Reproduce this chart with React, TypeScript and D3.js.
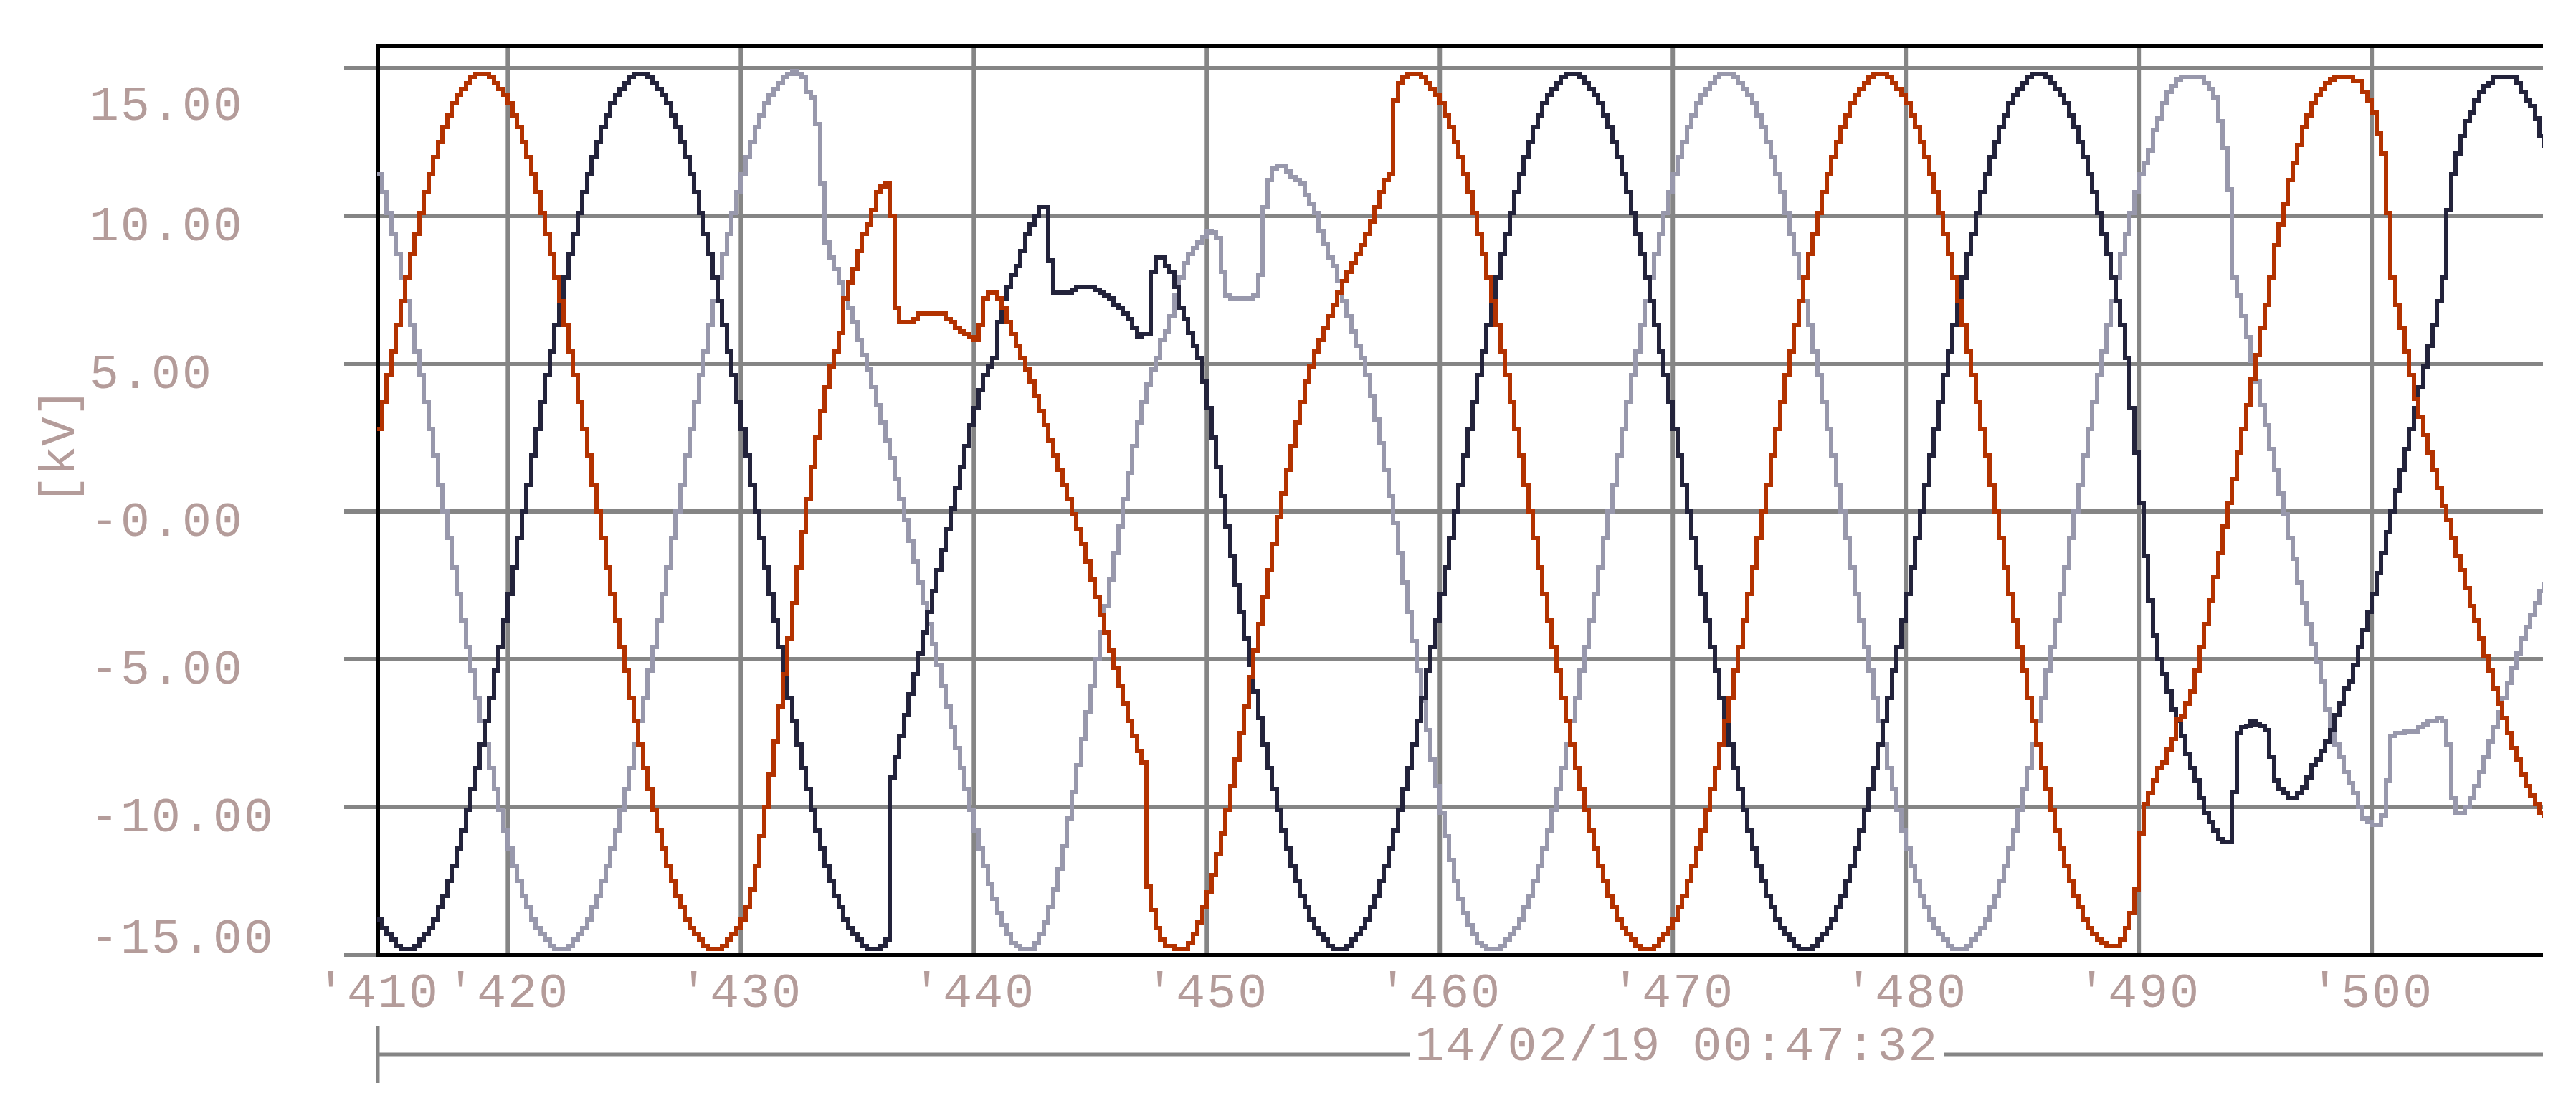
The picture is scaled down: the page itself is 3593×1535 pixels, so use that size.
import React from 'react';
import * as d3 from 'd3';

// ---- data ----
const sampleStart = 414.4; // ms
const sampleStep = 0.2; // ms
const xDomain = [414.42, 507.35];
const yDomain = [-15, 15.75];
const yTicks = [15, 10, 5, 0, -5, -10, -15];
const yTickLabels = ['15.00', '10.00', '5.00', '-0.00', '-5.00', '-10.00', '-15.00'];
const xTicks = [410, 420, 430, 440, 450, 460, 470, 480, 490, 500];
const xTickLabels = ["'410", "'420", "'430", "'440", "'450", "'460", "'470", "'480", "'490", "'500"];
const dateLabel = '14/02/19 00:47:32';
const unitLabel = '[kV]';

const phaseRed = [
  2.8, 3.7, 4.6, 5.4, 6.3, 7.1, 7.9, 8.7, 9.4, 10.1,
  10.8, 11.4, 12.0, 12.5, 13.0, 13.4, 13.8, 14.1, 14.3, 14.5,
  14.7, 14.8, 14.8, 14.8, 14.7, 14.5, 14.3, 14.1, 13.8, 13.4,
  13.0, 12.5, 12.0, 11.4, 10.8, 10.1, 9.4, 8.7, 7.9, 7.1,
  6.3, 5.4, 4.6, 3.7, 2.8, 1.9, 0.9, 0, -0.9, -1.9,
  -2.8, -3.7, -4.6, -5.4, -6.3, -7.1, -7.9, -8.7, -9.4, -10.1,
  -10.8, -11.4, -12.0, -12.5, -13.0, -13.4, -13.8, -14.1, -14.3, -14.5,
  -14.7, -14.8, -14.8, -14.8, -14.7, -14.5, -14.3, -14.1, -13.8, -13.4,
  -12.8, -12.0, -11.0, -10.0, -8.9, -7.8, -6.6, -5.5, -4.3, -3.1,
  -1.9, -0.7, 0.4, 1.5, 2.5, 3.4, 4.2, 4.9, 5.4, 6.05,
  7.2, 7.75, 8.2, 8.8, 9.4, 9.7, 10.2, 10.8, 11.0, 11.1,
  10.0, 6.9, 6.4, 6.4, 6.4, 6.5, 6.7, 6.7, 6.7, 6.7,
  6.7, 6.7, 6.5, 6.4, 6.2, 6.1, 6.0, 5.9, 5.8, 6.3,
  7.2, 7.4, 7.4, 7.2, 6.9, 6.4, 6.0, 5.6, 5.2, 4.8,
  4.4, 3.9, 3.4, 2.9, 2.4, 1.9, 1.4, 0.9, 0.4, -0.1,
  -0.6, -1.1, -1.7, -2.3, -2.9, -3.5, -4.1, -4.7, -5.3, -5.9,
  -6.5, -7.1, -7.6, -8.1, -8.5, -12.7, -13.5, -14.1, -14.5, -14.7,
  -14.7, -14.8, -14.8, -14.8, -14.6, -14.3, -13.9, -13.4, -12.9, -12.3,
  -11.6, -10.9, -10.1, -9.3, -8.4, -7.5, -6.6, -5.6, -4.7, -3.8,
  -2.9, -2.0, -1.1, -0.2, 0.6, 1.4, 2.2, 3.0, 3.7, 4.4,
  4.9, 5.4, 5.8, 6.2, 6.6, 7.0, 7.4, 7.8, 8.1, 8.4,
  8.7, 9.0, 9.4, 9.8, 10.3, 10.8, 11.2, 11.4, 13.9, 14.5,
  14.7, 14.8, 14.8, 14.8, 14.7, 14.5, 14.3, 14.1, 13.8, 13.4,
  13.0, 12.5, 12.0, 11.4, 10.8, 10.1, 9.4, 8.7, 7.9, 7.1,
  6.3, 5.4, 4.6, 3.7, 2.8, 1.9, 0.9, 0, -0.9, -1.9,
  -2.8, -3.7, -4.6, -5.4, -6.3, -7.1, -7.9, -8.7, -9.4, -10.1,
  -10.8, -11.4, -12.0, -12.5, -13.0, -13.4, -13.8, -14.1, -14.3, -14.5,
  -14.7, -14.8, -14.8, -14.8, -14.7, -14.5, -14.3, -14.1, -13.8, -13.4,
  -13.0, -12.5, -12.0, -11.4, -10.8, -10.1, -9.4, -8.7, -7.9, -7.1,
  -6.3, -5.4, -4.6, -3.7, -2.8, -1.9, -0.9, 0, 0.9, 1.9,
  2.8, 3.7, 4.6, 5.4, 6.3, 7.1, 7.9, 8.7, 9.4, 10.1,
  10.8, 11.4, 12.0, 12.5, 13.0, 13.4, 13.8, 14.1, 14.3, 14.5,
  14.7, 14.8, 14.8, 14.8, 14.7, 14.5, 14.3, 14.1, 13.8, 13.4,
  13.0, 12.5, 12.0, 11.4, 10.8, 10.1, 9.4, 8.7, 7.9, 7.1,
  6.3, 5.4, 4.6, 3.7, 2.8, 1.9, 0.9, 0, -0.9, -1.9,
  -2.8, -3.7, -4.6, -5.4, -6.3, -7.1, -7.9, -8.7, -9.4, -10.1,
  -10.8, -11.4, -12.0, -12.5, -13.0, -13.4, -13.8, -14.1, -14.3, -14.5,
  -14.6, -14.7, -14.7, -14.7, -14.5, -14.1, -13.6, -12.8, -10.9, -9.9,
  -9.55, -9.1, -8.7, -8.5, -8.05, -7.7, -7.05, -6.95, -6.5, -6.1,
  -5.4, -4.6, -3.8, -3.0, -2.2, -1.4, -0.5, 0.3, 1.1, 2.0,
  2.8, 3.6, 4.5, 5.3, 6.2, 7.0, 7.9, 9.0, 9.7, 10.4,
  11.2, 11.8, 12.4, 13.0, 13.4, 13.8, 14.1, 14.3, 14.5, 14.6,
  14.7, 14.7, 14.7, 14.7, 14.55, 14.55, 14.2, 13.9, 13.5, 12.8,
  12.1, 10.1, 7.9, 7.0, 6.2, 5.4, 4.6, 3.8, 3.2, 2.6,
  2.0, 1.4, 0.8, 0.2, -0.3, -0.9, -1.5, -2.0, -2.6, -3.2,
  -3.7, -4.3, -4.9, -5.4, -6.0, -6.5, -7.0, -7.5, -8.0, -8.4,
  -8.9, -9.3, -9.6, -9.9, -10.2, -10.4,
];

const phaseDark = [
  -13.8, -14.1, -14.3, -14.5, -14.7, -14.8, -14.8, -14.8, -14.7, -14.5,
  -14.3, -14.1, -13.8, -13.4, -13.0, -12.5, -12.0, -11.4, -10.8, -10.1,
  -9.4, -8.7, -7.9, -7.1, -6.3, -5.4, -4.6, -3.7, -2.8, -1.9,
  -0.9, 0, 0.9, 1.9, 2.8, 3.7, 4.6, 5.4, 6.3, 7.1,
  7.9, 8.7, 9.4, 10.1, 10.8, 11.4, 12.0, 12.5, 13.0, 13.4,
  13.8, 14.1, 14.3, 14.5, 14.7, 14.8, 14.8, 14.8, 14.7, 14.5,
  14.3, 14.1, 13.8, 13.4, 13.0, 12.5, 12.0, 11.4, 10.8, 10.1,
  9.4, 8.7, 7.9, 7.1, 6.3, 5.4, 4.6, 3.7, 2.8, 1.9,
  0.9, 0, -0.9, -1.9, -2.8, -3.7, -4.6, -5.4, -6.3, -7.1,
  -7.9, -8.7, -9.4, -10.1, -10.8, -11.4, -12.0, -12.5, -13.0, -13.4,
  -13.8, -14.1, -14.3, -14.5, -14.7, -14.8, -14.8, -14.8, -14.7, -14.5,
  -9.0, -8.3, -7.6, -6.9, -6.2, -5.5, -4.8, -4.1, -3.4, -2.7,
  -2.0, -1.3, -0.6, 0.1, 0.8, 1.5, 2.2, 2.9, 3.5, 4.1,
  4.6, 4.9, 5.2, 6.4, 7.2, 7.6, 8.0, 8.3, 8.8, 9.4,
  9.7, 10.0, 10.3, 10.3, 8.5, 7.4, 7.4, 7.4, 7.4, 7.5,
  7.6, 7.6, 7.6, 7.6, 7.5, 7.4, 7.3, 7.2, 7.0, 6.9,
  6.7, 6.5, 6.2, 5.9, 6.0, 6.0, 8.1, 8.6, 8.6, 8.3,
  8.1, 7.6, 6.9, 6.5, 6.05, 5.6, 5.2, 4.4, 3.5, 2.5,
  1.5, 0.5, -0.5, -1.5, -2.5, -3.4, -4.3, -5.2, -6.1, -7.0,
  -7.9, -8.7, -9.4, -10.1, -10.8, -11.4, -12.0, -12.5, -13.0, -13.4,
  -13.8, -14.1, -14.3, -14.5, -14.7, -14.8, -14.8, -14.8, -14.7, -14.5,
  -14.3, -14.1, -13.8, -13.4, -13.0, -12.5, -12.0, -11.4, -10.8, -10.1,
  -9.4, -8.7, -7.9, -7.1, -6.3, -5.4, -4.6, -3.7, -2.8, -1.9,
  -0.9, 0, 0.9, 1.9, 2.8, 3.7, 4.6, 5.4, 6.3, 7.1,
  7.9, 8.7, 9.4, 10.1, 10.8, 11.4, 12.0, 12.5, 13.0, 13.4,
  13.8, 14.1, 14.3, 14.5, 14.7, 14.8, 14.8, 14.8, 14.7, 14.5,
  14.3, 14.1, 13.8, 13.4, 13.0, 12.5, 12.0, 11.4, 10.8, 10.1,
  9.4, 8.7, 7.9, 7.1, 6.3, 5.4, 4.6, 3.7, 2.8, 1.9,
  0.9, 0, -0.9, -1.9, -2.8, -3.7, -4.6, -5.4, -6.3, -7.1,
  -7.9, -8.7, -9.4, -10.1, -10.8, -11.4, -12.0, -12.5, -13.0, -13.4,
  -13.8, -14.1, -14.3, -14.5, -14.7, -14.8, -14.8, -14.8, -14.7, -14.5,
  -14.3, -14.1, -13.8, -13.4, -13.0, -12.5, -12.0, -11.4, -10.8, -10.1,
  -9.4, -8.7, -7.9, -7.1, -6.3, -5.4, -4.6, -3.7, -2.8, -1.9,
  -0.9, 0, 0.9, 1.9, 2.8, 3.7, 4.6, 5.4, 6.3, 7.1,
  7.9, 8.7, 9.4, 10.1, 10.8, 11.4, 12.0, 12.5, 13.0, 13.4,
  13.8, 14.1, 14.3, 14.5, 14.7, 14.8, 14.8, 14.8, 14.7, 14.5,
  14.3, 14.1, 13.8, 13.4, 13.0, 12.5, 12.0, 11.4, 10.8, 10.1,
  9.4, 8.7, 7.9, 7.1, 6.3, 5.2, 3.5, 2.0, 0.3, -1.5,
  -3.0, -4.2, -5.0, -5.5, -6.1, -6.7, -7.1, -7.6, -8.2, -8.7,
  -9.1, -9.7, -10.2, -10.5, -10.8, -11.1, -11.2, -11.2, -9.5, -7.5,
  -7.3, -7.25, -7.1, -7.2, -7.25, -7.4, -8.3, -9.1, -9.4, -9.55,
  -9.7, -9.7, -9.55, -9.35, -9.0, -8.6, -8.4, -8.1, -7.8, -7.4,
  -6.9, -6.5, -6.0, -5.75, -5.2, -4.6, -4.0, -3.4, -2.8, -2.1,
  -1.4, -0.7, 0, 0.7, 1.4, 2.1, 2.8, 3.5, 4.2, 4.9,
  5.6, 6.3, 7.1, 7.9, 10.2, 11.4, 12.1, 12.7, 13.2, 13.5,
  13.9, 14.2, 14.4, 14.5, 14.7, 14.7, 14.7, 14.7, 14.7, 14.5,
  14.2, 13.9, 13.7, 13.3, 12.7, 12.3,
];

const phaseGray = [
  11.4, 10.8, 10.1, 9.4, 8.7, 7.9, 7.1, 6.3, 5.4, 4.6,
  3.7, 2.8, 1.9, 0.9, 0, -0.9, -1.9, -2.8, -3.7, -4.6,
  -5.4, -6.3, -7.1, -7.9, -8.7, -9.4, -10.1, -10.8, -11.4, -12.0,
  -12.5, -13.0, -13.4, -13.8, -14.1, -14.3, -14.5, -14.7, -14.8, -14.8,
  -14.8, -14.7, -14.5, -14.3, -14.1, -13.8, -13.4, -13.0, -12.5, -12.0,
  -11.4, -10.8, -10.1, -9.4, -8.7, -7.9, -7.1, -6.3, -5.4, -4.6,
  -3.7, -2.8, -1.9, -0.9, 0, 0.9, 1.9, 2.8, 3.7, 4.6,
  5.4, 6.3, 7.1, 7.9, 8.7, 9.4, 10.1, 10.8, 11.4, 12.0,
  12.5, 13.0, 13.4, 13.8, 14.1, 14.3, 14.5, 14.7, 14.8, 14.9,
  14.8, 14.7, 14.2, 14.0, 13.1, 11.1, 9.1, 8.6, 8.2, 7.75,
  7.2, 6.9, 6.4, 5.8, 5.3, 4.8, 4.2, 3.6, 3.0, 2.4,
  1.8, 1.1, 0.4, -0.3, -1.0, -1.7, -2.4, -3.1, -3.8, -4.5,
  -5.2, -5.9, -6.6, -7.3, -8.0, -8.7, -9.4, -10.1, -10.8, -11.4,
  -12.0, -12.6, -13.1, -13.6, -14.0, -14.3, -14.6, -14.7, -14.8, -14.8,
  -14.8, -14.6, -14.3, -13.9, -13.4, -12.8, -12.1, -11.3, -10.4, -9.5,
  -8.6, -7.7, -6.8, -5.9, -5.0, -4.1, -3.2, -2.3, -1.4, -0.5,
  0.4, 1.3, 2.2, 3.0, 3.7, 4.3, 4.8, 5.2, 5.8, 6.1,
  6.6, 7.3, 7.9, 8.4, 8.7, 8.9, 9.1, 9.3, 9.5, 9.45,
  9.25, 8.1, 7.3, 7.2, 7.2, 7.2, 7.2, 7.2, 7.3, 8.0,
  10.3, 11.2, 11.6, 11.7, 11.7, 11.5, 11.3, 11.2, 11.1, 10.7,
  10.4, 10.1, 9.5, 9.05, 8.6, 8.3, 7.8, 7.1, 6.6, 6.1,
  5.6, 5.2, 4.6, 3.9, 3.1, 2.3, 1.4, 0.5, -0.4, -1.4,
  -2.4, -3.4, -4.4, -5.4, -6.4, -7.4, -8.4, -9.3, -10.2, -11.0,
  -11.8, -12.5, -13.1, -13.6, -14.0, -14.3, -14.6, -14.7, -14.8, -14.8,
  -14.8, -14.7, -14.5, -14.3, -14.1, -13.8, -13.4, -13.0, -12.5, -12.0,
  -11.4, -10.8, -10.1, -9.4, -8.7, -7.9, -7.1, -6.3, -5.4, -4.6,
  -3.7, -2.8, -1.9, -0.9, 0, 0.9, 1.9, 2.8, 3.7, 4.6,
  5.4, 6.3, 7.1, 7.9, 8.7, 9.4, 10.1, 10.8, 11.4, 12.0,
  12.5, 13.0, 13.4, 13.8, 14.1, 14.3, 14.5, 14.7, 14.8, 14.8,
  14.8, 14.7, 14.5, 14.3, 14.1, 13.8, 13.4, 13.0, 12.5, 12.0,
  11.4, 10.8, 10.1, 9.4, 8.7, 7.9, 7.1, 6.3, 5.4, 4.6,
  3.7, 2.8, 1.9, 0.9, 0, -0.9, -1.9, -2.8, -3.7, -4.6,
  -5.4, -6.3, -7.1, -7.9, -8.7, -9.4, -10.1, -10.8, -11.4, -12.0,
  -12.5, -13.0, -13.4, -13.8, -14.1, -14.3, -14.5, -14.7, -14.8, -14.8,
  -14.8, -14.7, -14.5, -14.3, -14.1, -13.8, -13.4, -13.0, -12.5, -12.0,
  -11.4, -10.8, -10.1, -9.4, -8.7, -7.9, -7.1, -6.3, -5.4, -4.6,
  -3.7, -2.8, -1.9, -0.9, 0, 0.9, 1.9, 2.8, 3.7, 4.6,
  5.4, 6.3, 7.1, 7.9, 8.7, 9.4, 10.1, 10.8, 11.4, 11.8,
  12.2, 12.9, 13.3, 13.8, 14.2, 14.4, 14.6, 14.7, 14.7, 14.7,
  14.7, 14.7, 14.5, 14.3, 14.0, 13.2, 12.3, 10.9, 7.9, 7.3,
  6.6, 5.9, 5.1, 4.4, 3.6, 2.9, 2.1, 1.4, 0.6, -0.1,
  -0.9, -1.6, -2.4, -3.1, -3.8, -4.5, -5.1, -5.75, -6.7, -7.3,
  -7.9, -8.3, -8.8, -9.2, -9.55, -10.0, -10.4, -10.5, -10.6, -10.6,
  -10.3, -9.1, -7.6, -7.5, -7.5, -7.45, -7.45, -7.45, -7.3, -7.2,
  -7.1, -7.1, -7.0, -7.1, -7.9, -9.7, -10.2, -10.2, -10.0, -9.7,
  -9.3, -8.8, -8.3, -7.8, -7.3, -6.8, -6.3, -5.8, -5.3, -4.8,
  -4.3, -3.9, -3.5, -3.1, -2.7, -2.4,
];

const seriesList = [
  { name: 'gray', values: phaseGray, color: '#9898ac' },
  { name: 'dark', values: phaseDark, color: '#23233b' },
  { name: 'red', values: phaseRed, color: '#b33200' },
];

// ---- layout ----
const W = 3593;
const H = 1535;
const PL = 527;
const PR = 3547;
const PT = 64;
const PB = 1331;
const GRID = '#858585';
const TEXT = '#b49c9a';
const FONT = "'Liberation Mono', 'DejaVu Sans Mono', monospace";
const FS = 68;
const LS = 2.2;

export default function App() {
  const x = d3.scaleLinear().domain(xDomain).range([PL, PR]);
  const y = d3.scaleLinear().domain(yDomain).range([PB, PT]);

  const line = d3
    .line<[number, number]>()
    .x((d) => x(d[0]))
    .y((d) => y(d[1]))
    .curve(d3.curveStepAfter);

  const dateX = PL + (PR - PL) * 0.6;

  return (
    <svg
      width={W}
      height={H}
      style={{ position: 'absolute', left: 0, top: 0, background: '#fff', display: 'block' }}
    >
      <defs>
        <clipPath id="plotClip">
          <rect x={PL - 3} y={PT - 3} width={PR - PL + 3} height={PB - PT + 6} />
        </clipPath>
      </defs>
      <rect x={0} y={0} width={W} height={H} fill="#fff" />

      {/* horizontal gridlines */}
      {yTicks.map((v) => (
        <line key={'hy' + v} x1={480} x2={PR} y1={y(v)} y2={y(v)} stroke={GRID} strokeWidth={6} />
      ))}
      {/* vertical gridlines */}
      {xTicks
        .filter((v) => v >= xDomain[0] && v <= xDomain[1])
        .map((v) => (
          <line key={'vx' + v} x1={x(v)} x2={x(v)} y1={PT} y2={PB} stroke={GRID} strokeWidth={6} />
        ))}

      {/* frame */}
      <line x1={PL - 3} x2={PR} y1={PT} y2={PT} stroke="#000" strokeWidth={6} />
      <line x1={PL - 3} x2={PR} y1={PB} y2={PB} stroke="#000" strokeWidth={6} />
      <line x1={PL} x2={PL} y1={PT} y2={PB} stroke="#000" strokeWidth={6} />

      {/* series */}
      <g clipPath="url(#plotClip)">
        {seriesList.map((s) => {
          const pts: [number, number][] = s.values.map((v, i) => [sampleStart + i * sampleStep, v]);
          return (
            <path
              key={s.name}
              d={line(pts) || ''}
              fill="none"
              stroke={s.color}
              strokeWidth={6}
              strokeLinejoin="miter"
              shapeRendering="crispEdges"
            />
          );
        })}
      </g>

      {/* y labels */}
      {yTicks.map((v, i) => {
        const by = Math.min(Math.max(y(v) + 34, y(15) + 72), y(-15) - 3);
        return (
          <text
            key={'yl' + v}
            x={125}
            y={by}
            fontFamily={FONT}
            fontSize={FS}
            letterSpacing={LS}
            fill={TEXT}
          >
            {yTickLabels[i]}
          </text>
        );
      })}

      {/* unit label */}
      <text
        transform={`translate(103, 622) rotate(-90)`}
        textAnchor="middle"
        fontFamily={FONT}
        fontSize={FS}
        fill={TEXT}
      >
        {unitLabel}
      </text>

      {/* x labels */}
      {xTicks.map((v, i) => (
        <text
          key={'xl' + v}
          x={Math.max(x(v), PL)}
          y={1404}
          textAnchor="middle"
          fontFamily={FONT}
          fontSize={FS}
          letterSpacing={LS}
          fill={TEXT}
        >
          {xTickLabels[i]}
        </text>
      ))}

      {/* date line */}
      <line x1={PL} x2={PR} y1={1470} y2={1470} stroke={GRID} strokeWidth={5} />
      <line x1={PL} x2={PL} y1={1430} y2={1510} stroke={GRID} strokeWidth={5} />
      <rect x={dateX - 372} y={1432} width={744} height={60} fill="#fff" />
      <text
        x={dateX}
        y={1478}
        textAnchor="middle"
        fontFamily={FONT}
        fontSize={FS}
        letterSpacing={LS}
        fill={TEXT}
      >
        {dateLabel}
      </text>
    </svg>
  );
}
